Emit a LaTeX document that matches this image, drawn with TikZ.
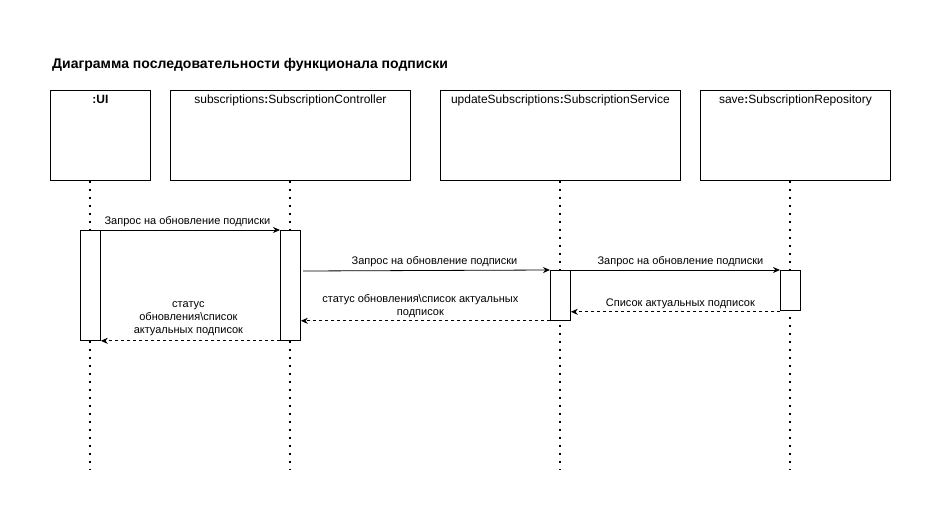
\documentclass[tikz,border=0pt]{standalone}
\usepackage{fontspec}
\setmainfont{Liberation Sans}
\usepackage{tikz}
\usetikzlibrary{arrows.meta,positioning,calc}

\tikzset{
  head/.style={draw, line width=0.8pt, minimum width=#1, minimum height=90pt, inner sep=0pt, anchor=north west},
  act/.style={draw, fill=white, line width=0.8pt, minimum width=20pt, minimum height=#1, inner sep=0pt, anchor=north west},
  lifeline/.style={line width=1.8pt, dash pattern=on 1.8pt off 6.2pt},
  msg/.style={line width=0.8pt, -{Stealth[length=7pt,width=6pt]}},
  reply/.style={msg, dash pattern=on 3pt off 3pt},
  msglabel/.style={font=\fontsize{11}{13}\selectfont, align=center, inner sep=3pt}
}

\begin{document}
\begin{tikzpicture}[x=1pt, y=-1pt]
        \useasboundingbox (0,0) rectangle (942,522);

        % Title
        \node[anchor=west, inner sep=0pt, font=\fontsize{14}{16}\selectfont\bfseries] (title) at (52,65) {Диаграмма последовательности функционала подписки};

        % Heads
        \node[head=100pt, label={[anchor=north, yshift=-5pt, inner sep=0pt, font=\fontsize{12}{14}\selectfont\bfseries]north::UI}] (ui) at (50,90) {};
        \node[head=240pt, label={[anchor=north, yshift=-5pt, inner sep=0pt, font=\fontsize{12}{14}\selectfont]north:subscriptions\textbf{:}SubscriptionController}] (ctl) at (170,90) {};
        \node[head=240pt, label={[anchor=north, yshift=-5pt, inner sep=0pt, font=\fontsize{12}{14}\selectfont]north:updateSubscriptions\textbf{:}SubscriptionService}] (svc) at (440,90) {};
        \node[head=190pt, label={[anchor=north, yshift=-5pt, inner sep=0pt, font=\fontsize{12}{14}\selectfont]north:save\textbf{:}SubscriptionRepository}] (rep) at (700,90) {};

        % Lifelines
        \coordinate (uiend) at (90,470);
        \coordinate (ctlend) at (290,470);
        \coordinate (svcend) at (560,470);
        \coordinate (repend) at (790,470);
        \draw[lifeline] (ui.south -| uiend) -- (uiend);
        \draw[lifeline] (ctl.south -| ctlend) -- (ctlend);
        \draw[lifeline] (svc.south -| svcend) -- (svcend);
        \draw[lifeline] (rep.south -| repend) -- (repend);

        % Activations
        \node[act=110pt] (uiact) at (80,230) {};
        \node[act=110pt] (ctlact) at (280,230) {};
        \node[act=50pt] (svcact) at (550,270) {};
        \node[act=40pt] (repact) at (780,270) {};

        % Requests
        \draw[msg] (uiact.north east) -- node[above, msglabel, xshift=-3pt] {Запрос на обновление подписки} (ctlact.north west);
        \coordinate (reqstart) at (303,271);
        \draw[msg] (reqstart) -- node[above, msglabel, xshift=8pt] {Запрос на обновление подписки} (svcact.north west);
        \draw[msg] (svcact.north east) -- node[above, msglabel, xshift=5pt] {Запрос на обновление подписки} (repact.north west);

        % Replies
        \draw[reply] ([yshift=-1pt]repact.south west) -- node[above, msglabel, xshift=5pt] {Список актуальных подписок} ([yshift=-1pt]repact.south west -| svcact.east);
        \draw[reply] (svcact.south west) -- node[above, msglabel, xshift=-5pt] {статус обновления\textbackslash список актуальных\\подписок} (svcact.south west -| ctlact.east);
        \draw[reply] (ctlact.south west) -- node[above, msglabel, xshift=-2pt, yshift=2pt] {статус\\обновления\textbackslash список\\актуальных подписок} (uiact.south east);
      \end{tikzpicture}
\end{document}
